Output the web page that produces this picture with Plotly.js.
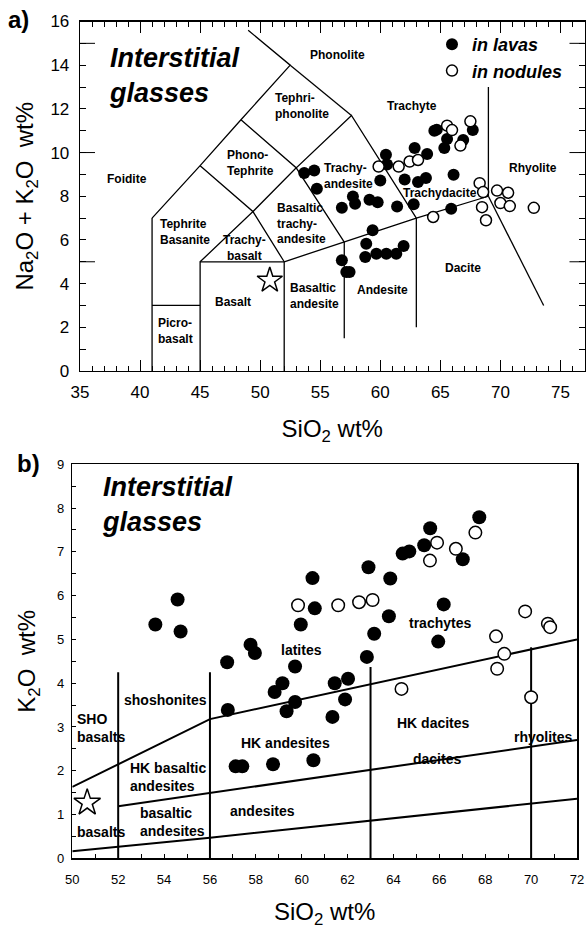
<!DOCTYPE html>
<html><head><meta charset="utf-8">
<script src="https://cdn.plot.ly/plotly-3.0.1.min.js"></script>
<style>html,body{margin:0;padding:0;background:#fff}</style>
</head><body><div id="chart" style="width:586px;height:929px"></div>
<script>
// ---------- (a) TAS diagram data ----------
var tasLavaSiO2 = [64.5, 64.7, 65.56, 67.7, 66.9, 65.33, 62.86, 63.9, 60.47, 60.56, 53.67, 54.5, 54.72, 60.0, 62.03, 63.14, 63.8, 66.1, 57.72, 57.9, 59.1, 59.78, 56.8, 61.4, 62.78, 65.9, 59.36, 58.83, 58.75, 59.67, 60.5, 61.33, 61.94, 56.8, 57.17, 57.44];
var tasLavaAlk  = [11.0, 11.05, 10.62, 11.03, 10.58, 10.21, 10.21, 9.93, 9.9, 9.45, 9.06, 9.18, 8.34, 8.72, 8.77, 8.65, 8.84, 8.98, 7.99, 7.66, 7.84, 7.73, 7.47, 7.53, 7.63, 7.43, 6.44, 5.83, 5.22, 5.37, 5.37, 5.37, 5.72, 5.07, 4.53, 4.53];
var tasNodSiO2 = [65.56, 65.97, 67.5, 66.67, 59.86, 61.53, 62.44, 63.14, 64.4, 68.27, 68.56, 69.72, 70.64, 70.0, 70.78, 72.78, 68.47, 68.8];
var tasNodAlk  = [11.23, 11.03, 11.43, 10.32, 9.36, 9.36, 9.59, 9.66, 7.05, 8.6, 8.19, 8.26, 8.16, 7.69, 7.55, 7.47, 7.5, 6.9];
var tasStarSiO2 = [50.8];
var tasStarAlk = [4.15];
// TAS field boundaries (null separates segments)
var tasBoundX = [41,41,null, 41,45,null, 45,45,52,52,null, 52,57,63,69,null, 57,57,null, 63,63,null, 69,73.6,null, 69,69,null,
                 41,45,48.4,52.5,49,null, 45,49.4,52,null, 45,49.4,53,57,null, 48.4,53,57.6,63,null, 52.5,57.6];
var tasBoundY = [0,7,null, 3,3,null, 0,5,5,0,null, 5,5.9,7,8,null, 5.9,1.5,null, 7,2,null, 8,3,null, 8,13,null,
                 7,9.4,11.5,14,15.6,null, 5,7.3,5,null, 9.4,7.3,9.3,5.9,null, 11.5,9.3,11.7,7,null, 14,11.7];

// ---------- (b) K2O vs SiO2 data ----------
var kLavaSiO2 = [53.62, 54.59, 54.72, 60.47, 62.91, 63.86, 60.57, 59.96, 63.8, 63.16, 57.77, 57.96, 56.75, 59.71, 62.84, 59.16, 58.82, 61.44, 62.02, 59.71, 59.34, 61.89, 61.34, 56.78, 57.12, 57.41, 58.75, 60.51, 67.74, 65.6, 65.34, 64.4, 64.69, 67.02, 66.19, 65.95];
var kLavaK2O  = [5.34, 5.91, 5.18, 6.4, 6.65, 6.39, 5.71, 5.34, 5.53, 5.13, 4.88, 4.69, 4.48, 4.38, 4.6, 4.0, 3.8, 4.0, 4.1, 3.57, 3.36, 3.63, 3.23, 3.39, 2.1, 2.1, 2.15, 2.24, 7.79, 7.54, 7.15, 6.96, 7.01, 6.83, 5.8, 4.95];
var kNodSiO2 = [59.84, 61.59, 62.5, 63.09, 67.57, 65.9, 66.72, 65.59, 69.74, 70.73, 70.83, 68.47, 68.83, 68.52, 64.35, 70.0];
var kNodK2O  = [5.78, 5.78, 5.85, 5.9, 7.44, 7.21, 7.07, 6.8, 5.64, 5.36, 5.28, 5.07, 4.67, 4.33, 3.87, 3.68];
var kStarSiO2 = [50.65];
var kStarK2O = [1.27];
var kBoundX = [50,56,72,null, 52,56,72,null, 50,52,56,72,null, 52,52,null, 56,56,null, 63,63,null, 70,70];
var kBoundY = [1.63,3.18,5.0,null, 1.19,1.49,2.7,null, 0.16,0.26,0.47,1.36,null, 0,4.25,null, 0,4.25,null, 0,4.37,null, 0,4.82];

// ---------- labels: [text, px, py, anchor] ----------
var tasLabels = [
 ["Phonolite",337,55,"c"],["Tephri-<br>phonolite",273,106.5,"l"],["Trachyte",412,106,"c"],
 ["Phono-<br>Tephrite",225,163,"l"],["Foidite",127,179,"c"],["Tephrite<br>Basanite",158,232,"l"],
 ["Trachy-<br>basalt",244,247.5,"c"],["Basaltic<br>trachy-<br>andesite",275,223.5,"l"],
 ["Trachy-<br>andesite",322,175.5,"l"],["Trachydacite",440,193,"c"],["Rhyolite",533,168,"c"],
 ["Basalt",233,302,"c"],["Basaltic<br>andesite",288,295.5,"l"],["Andesite",382,290,"c"],["Dacite",463,268,"c"],
 ["Picro-<br>basalt",156,330.5,"l"]
];
var kLabels = [
 ["shoshonites",165,700,"c"],["HK basaltic<br>andesites",128,776.5,"l"],["basaltic<br>andesites",138,821.5,"l"],
 ["HK andesites",285,743,"c"],["andesites",262,811,"c"],["latites",301,650,"c"],["trachytes",440,623,"c"],["HK dacites",433,723,"c"],
 ["dacites",437,759,"c"],["rhyolites",543,737,"c"],["SHO<br>basalts",75,727.5,"l"],["basalts",75,832,"l"]
];

var W = 586, H = 929;
function px(x){return x/W;} function py(y){return 1-y/H;}
var FONT = 'Liberation Sans, Arial, Helvetica, sans-serif';

var ann = [];
function addLabels(list, size){
  list.forEach(function(l){
    var left = l[3] === 'l';
    ann.push({text:'<b>'+l[0]+'</b>', x:px(l[1]), y:py(l[2]), xref:'paper', yref:'paper', showarrow:false,
      font:{size:size, family:FONT, color:'#000'}, xanchor:left?'left':'center', align:left?'left':'center', yanchor:'middle'});
  });
}
addLabels(tasLabels, 12);
addLabels(kLabels, 14);
[[107,75.5],[100,504.5]].forEach(function(l){
  ann.push({text:'<b><i>Interstitial<br>glasses</i></b>', x:px(l[0]), y:py(l[1]), xref:'paper', yref:'paper', showarrow:false,
    font:{size:27, family:FONT, color:'#000'}, xanchor:'left', align:'left', yanchor:'middle'});
});
ann.push({text:'<b>a)</b>', x:px(6), y:py(19), xref:'paper', yref:'paper', showarrow:false, font:{size:24, family:FONT}, xanchor:'left', yanchor:'middle'});
ann.push({text:'<b>b)</b>', x:px(15), y:py(463), xref:'paper', yref:'paper', showarrow:false, font:{size:24, family:FONT}, xanchor:'left', yanchor:'middle'});

var shapes = [];
[5,10,15].forEach(function(v){
  shapes.push({type:'line', xref:'x domain', yref:'y', x0:0, x1:15/504, y0:v, y1:v, line:{color:'#000', width:1}});
  shapes.push({type:'line', xref:'x domain', yref:'y', x0:1-15/504, x1:1, y0:v, y1:v, line:{color:'#000', width:1}});
});

var traces = [
 {x:tasBoundX, y:tasBoundY, mode:'lines', line:{color:'#000', width:1.3}, showlegend:false, hoverinfo:'skip', xaxis:'x', yaxis:'y', connectgaps:false},
 {x:tasLavaSiO2, y:tasLavaAlk, mode:'markers', name:'<b><i>in lavas</i></b>', marker:{symbol:'circle', size:12, color:'#000'}, xaxis:'x', yaxis:'y'},
 {x:tasNodSiO2, y:tasNodAlk, mode:'markers', name:'<b><i>in nodules</i></b>', marker:{symbol:'circle', size:11, color:'#fff', line:{color:'#000', width:1.5}}, xaxis:'x', yaxis:'y'},
 {x:tasStarSiO2, y:tasStarAlk, mode:'markers', showlegend:false, marker:{symbol:'star-open', size:19, color:'#000', line:{width:1.5}}, xaxis:'x', yaxis:'y'},
 {x:kBoundX, y:kBoundY, mode:'lines', line:{color:'#000', width:2}, showlegend:false, hoverinfo:'skip', xaxis:'x2', yaxis:'y2', connectgaps:false},
 {x:kLavaSiO2, y:kLavaK2O, mode:'markers', showlegend:false, marker:{symbol:'circle', size:14, color:'#000'}, xaxis:'x2', yaxis:'y2'},
 {x:kNodSiO2, y:kNodK2O, mode:'markers', showlegend:false, marker:{symbol:'circle', size:12.5, color:'#fff', line:{color:'#000', width:1.5}}, xaxis:'x2', yaxis:'y2'},
 {x:kStarSiO2, y:kStarK2O, mode:'markers', showlegend:false, marker:{symbol:'star-open', size:20, color:'#000', line:{width:1.5}}, xaxis:'x2', yaxis:'y2'}
];

var NB = '\u00a0';
var layout = {
 width:W, height:H, margin:{l:0,r:0,t:0,b:0}, paper_bgcolor:'#fff', plot_bgcolor:'#fff',
 font:{family:FONT, color:'#000'},
 showlegend:true,
 legend:{x:px(432), y:py(26), xanchor:'left', yanchor:'top', bgcolor:'rgba(0,0,0,0)', font:{size:18, family:FONT}, itemsizing:'trace'},
 xaxis:{domain:[px(80), px(584.5)], range:[35,77], anchor:'y', tick0:35, dtick:5, ticks:'inside', ticklen:11, tickwidth:1, tickcolor:'#000',
   minor:{dtick:1, tick0:35, ticks:'inside', ticklen:5, tickwidth:1, tickcolor:'#000'},
   showline:true, linewidth:1.3, linecolor:'#000', mirror:'ticks', showgrid:false, zeroline:false, tickfont:{size:17}, ticklabelstandoff:5,
   title:{text:'SiO<sub>2</sub> wt%', font:{size:24}, standoff:19}},
 yaxis:{domain:[py(371), py(21.5)], range:[0,16], anchor:'x', tick0:0, dtick:2, ticks:'inside', ticklen:6, tickwidth:1, tickcolor:'#000',
   minor:{dtick:1, tick0:0, ticks:'inside', ticklen:6, tickwidth:1, tickcolor:'#000'},
   showline:true, linewidth:1.3, linecolor:'#000', mirror:'ticks', showgrid:false, zeroline:false, tickfont:{size:17}, ticklabelstandoff:6,
   title:{text:'Na<sub>2</sub>O + K<sub>2</sub>O'+NB+NB+'wt%'+NB+NB+NB+NB, font:{size:24}, standoff:10}},
 xaxis2:{domain:[px(72.3), px(577)], range:[50,72], anchor:'y2', tick0:50, dtick:2, ticks:'inside', ticklen:4, tickwidth:1, tickcolor:'#000',
   minor:{dtick:1, tick0:50, ticks:'inside', ticklen:4, tickwidth:1, tickcolor:'#000'},
   showline:true, linewidth:1.5, linecolor:'#000', mirror:true, showgrid:false, zeroline:false, tickfont:{size:13}, ticklabelstandoff:9,
   title:{text:'SiO<sub>2</sub> wt%', font:{size:24}, standoff:24}},
 yaxis2:{domain:[py(858.3), py(464.3)], range:[0,9], anchor:'x2', tick0:0, dtick:1, ticks:'inside', ticklen:4, tickwidth:1, tickcolor:'#000',
   minor:{dtick:0.5, tick0:0, ticks:'inside', ticklen:4, tickwidth:1, tickcolor:'#000'},
   showline:true, linewidth:1.5, linecolor:'#000', mirror:true, showgrid:false, zeroline:false, tickfont:{size:13}, ticklabelstandoff:4,
   title:{text:'K<sub>2</sub>O'+NB+NB+'wt%', font:{size:24}, standoff:14}},
 annotations:ann, shapes:shapes
};
Plotly.newPlot('chart', traces, layout, {displayModeBar:false, staticPlot:true});
</script></body></html>
